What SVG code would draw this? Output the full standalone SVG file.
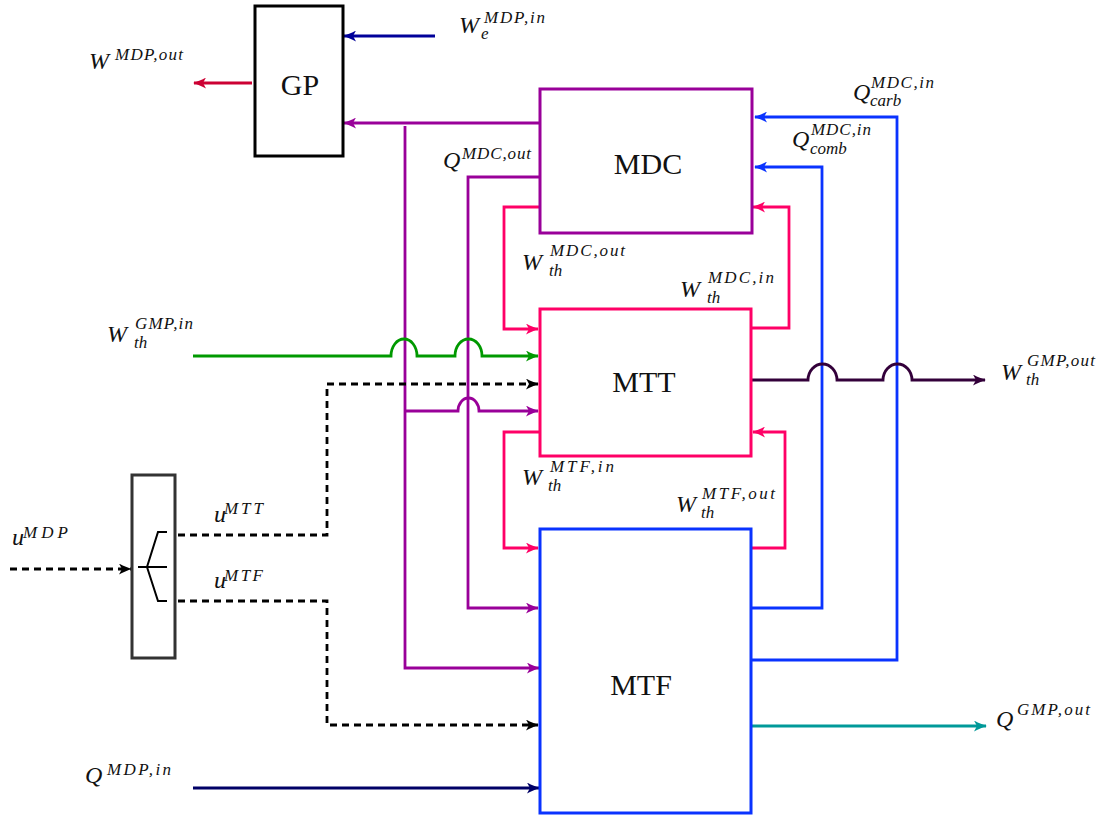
<svg xmlns="http://www.w3.org/2000/svg" width="1101" height="816" viewBox="0 0 1101 816">
<style>
.c{fill:none;stroke-width:2.8;stroke-linejoin:miter}
.dash{stroke:#000;stroke-dasharray:7 5}
.pur{stroke:#990099}.pnk{stroke:#ff0066}.blu{stroke:#0a33ff}.grn{stroke:#009900}
.drk{stroke:#33003a}.tea{stroke:#009999}.nav{stroke:#000066}.dbl{stroke:#000099}.crm{stroke:#cc0033}
.box{fill:none;stroke-width:3}
.nl{font-family:"Liberation Serif",serif;font-size:30px;fill:#111;text-anchor:middle}
.m{font-family:"Liberation Serif",serif;font-style:italic;font-size:24px;fill:#111}
.s{font-size:17px}
</style>
<defs>
<path id="tip" d="M13,5.5 C9,4.5 3.5,2 0,0 L3,5.5 L0,11 C3.5,9 9,6.5 13,5.5 z"/>
<marker id="ak" viewBox="0 0 13 11" refX="12" refY="5.5" markerWidth="13" markerHeight="11" markerUnits="userSpaceOnUse" orient="auto"><use href="#tip" fill="#000"/></marker>
<marker id="ap" viewBox="0 0 13 11" refX="12" refY="5.5" markerWidth="13" markerHeight="11" markerUnits="userSpaceOnUse" orient="auto"><use href="#tip" fill="#990099"/></marker>
<marker id="an" viewBox="0 0 13 11" refX="12" refY="5.5" markerWidth="13" markerHeight="11" markerUnits="userSpaceOnUse" orient="auto"><use href="#tip" fill="#ff0066"/></marker>
<marker id="ab" viewBox="0 0 13 11" refX="12" refY="5.5" markerWidth="13" markerHeight="11" markerUnits="userSpaceOnUse" orient="auto"><use href="#tip" fill="#0a33ff"/></marker>
<marker id="ag" viewBox="0 0 13 11" refX="12" refY="5.5" markerWidth="13" markerHeight="11" markerUnits="userSpaceOnUse" orient="auto"><use href="#tip" fill="#009900"/></marker>
<marker id="ad" viewBox="0 0 13 11" refX="12" refY="5.5" markerWidth="13" markerHeight="11" markerUnits="userSpaceOnUse" orient="auto"><use href="#tip" fill="#33003a"/></marker>
<marker id="at" viewBox="0 0 13 11" refX="12" refY="5.5" markerWidth="13" markerHeight="11" markerUnits="userSpaceOnUse" orient="auto"><use href="#tip" fill="#009999"/></marker>
<marker id="av" viewBox="0 0 13 11" refX="12" refY="5.5" markerWidth="13" markerHeight="11" markerUnits="userSpaceOnUse" orient="auto"><use href="#tip" fill="#000066"/></marker>
<marker id="ae" viewBox="0 0 13 11" refX="12" refY="5.5" markerWidth="13" markerHeight="11" markerUnits="userSpaceOnUse" orient="auto"><use href="#tip" fill="#000099"/></marker>
<marker id="ac" viewBox="0 0 13 11" refX="12" refY="5.5" markerWidth="13" markerHeight="11" markerUnits="userSpaceOnUse" orient="auto"><use href="#tip" fill="#cc0033"/></marker>
</defs>
<rect width="1101" height="816" fill="#fff"/>
<g id="connectors">
<path class="c dbl" d="M435,36 L344,36" marker-end="url(#ae)"/>
<path class="c crm" d="M252,83 L194,83" marker-end="url(#ac)"/>
<path class="c pur" d="M540,123 L344,123" marker-end="url(#ap)"/>
<path class="c pur" d="M405,126 L405,668 L539,668" marker-end="url(#ap)"/>
<path class="c pur" d="M405,411 L458,411 A10.5,13 0 0 1 479,411 L538,411" marker-end="url(#ap)"/>
<path class="c pur" d="M540,177 L468,177 L468,608 L538,608" marker-end="url(#ap)"/>
<path class="c pnk" d="M540,207 L504,207 L504,329 L538,329" marker-end="url(#an)"/>
<path class="c pnk" d="M751,328 L789,328 L789,207 L753,207" marker-end="url(#an)"/>
<path class="c pnk" d="M540,432 L504,432 L504,548 L538,548" marker-end="url(#an)"/>
<path class="c pnk" d="M751,548 L785,548 L785,432 L753,432" marker-end="url(#an)"/>
<path class="c blu" d="M751,608 L822,608 L822,167 L755,167" marker-end="url(#ab)"/>
<path class="c blu" d="M752,660 L897,660 L897,117 L755,117" marker-end="url(#ab)"/>
<path class="c grn" d="M193,356 L391,356 A13,17 0 0 1 417,356 L455,356 A13.5,17 0 0 1 482,356 L538,356" marker-end="url(#ag)"/>
<path class="c drk" d="M751,380 L808,380 A14.5,16 0 0 1 837,380 L883,380 A14.5,16 0 0 1 912,380 L985,380" marker-end="url(#ad)"/>
<path class="c tea" d="M751,726 L986,726" marker-end="url(#at)"/>
<path class="c nav" d="M193,788 L539,788" marker-end="url(#av)"/>
<path class="c dash" d="M10,569 L131,569" marker-end="url(#ak)"/>
<path class="c dash" d="M178,535 L327,535 L327,384 L538,384" marker-end="url(#ak)"/>
<path class="c dash" d="M178,601 L327,601 L327,725 L538,725" marker-end="url(#ak)"/>
</g>
<g id="GP"><rect class="box" x="255" y="6" width="88" height="150" stroke="#000"/><text class="nl" x="300" y="95">GP</text></g>
<g id="MDC"><rect class="box" x="540" y="89" width="212" height="144" stroke="#990099"/><text class="nl" x="648" y="174">MDC</text></g>
<g id="MTT"><rect class="box" x="540" y="309" width="211" height="147" stroke="#ff0066"/><text class="nl" x="644" y="392">MTT</text></g>
<g id="MTF"><rect class="box" x="540" y="529" width="211" height="284" stroke="#0a33ff"/><text class="nl" x="641" y="695">MTF</text></g>
<g id="DEMUX">
<rect class="box" x="132" y="475" width="43" height="183" stroke="#333"/>
<path d="M138,567 L167,567 M167,532 L158,532 L147,567 L158,601 L167,601" fill="none" stroke="#000" stroke-width="2"/>
</g>
<g id="labels">
<text class="m" x="89" y="69">W<tspan class="s" x="115" y="60" textLength="68" lengthAdjust="spacing">MDP,out</tspan></text>
<text class="m" x="459" y="33">W<tspan class="s" x="484" y="23" textLength="61" lengthAdjust="spacing">MDP,in</tspan><tspan class="s" x="481" y="39">e</tspan></text>
<text class="m" x="443" y="168">Q<tspan class="s" x="462" y="159" textLength="69" lengthAdjust="spacing">MDC,out</tspan></text>
<text class="m" x="853" y="100">Q<tspan class="s" x="871" y="88" textLength="63" lengthAdjust="spacing">MDC,in</tspan><tspan class="s" x="870" y="106">carb</tspan></text>
<text class="m" x="792" y="147">Q<tspan class="s" x="811" y="135" textLength="60" lengthAdjust="spacing">MDC,in</tspan><tspan class="s" x="810" y="154">comb</tspan></text>
<text class="m" x="522" y="270">W<tspan class="s" x="550" y="256" textLength="75" lengthAdjust="spacing">MDC,out</tspan><tspan class="s" x="549" y="276">th</tspan></text>
<text class="m" x="680" y="297">W<tspan class="s" x="708" y="283" textLength="66" lengthAdjust="spacing">MDC,in</tspan><tspan class="s" x="707" y="303">th</tspan></text>
<text class="m" x="107" y="342">W<tspan class="s" x="135" y="329" textLength="58" lengthAdjust="spacing">GMP,in</tspan><tspan class="s" x="134" y="348">th</tspan></text>
<text class="m" x="1001" y="380">W<tspan class="s" x="1027" y="366" textLength="68" lengthAdjust="spacing">GMP,out</tspan><tspan class="s" x="1026" y="385">th</tspan></text>
<text class="m" x="522" y="485">W<tspan class="s" x="550" y="472" textLength="64" lengthAdjust="spacing">MTF,in</tspan><tspan class="s" x="548" y="491">th</tspan></text>
<text class="m" x="676" y="512">W<tspan class="s" x="702" y="499" textLength="73" lengthAdjust="spacing">MTF,out</tspan><tspan class="s" x="701" y="518">th</tspan></text>
<text class="m" x="214" y="522">u<tspan class="s" x="224" y="514" textLength="39" lengthAdjust="spacing">MTT</tspan></text>
<text class="m" x="214" y="588">u<tspan class="s" x="224" y="581" textLength="39" lengthAdjust="spacing">MTF</tspan></text>
<text class="m" x="12" y="545">u<tspan class="s" x="23" y="538" textLength="45" lengthAdjust="spacing">MDP</tspan></text>
<text class="m" x="85" y="783">Q<tspan class="s" x="107" y="775" textLength="64" lengthAdjust="spacing">MDP,in</tspan></text>
<text class="m" x="996" y="727">Q<tspan class="s" x="1017" y="715" textLength="73" lengthAdjust="spacing">GMP,out</tspan></text>
</g>
</svg>
